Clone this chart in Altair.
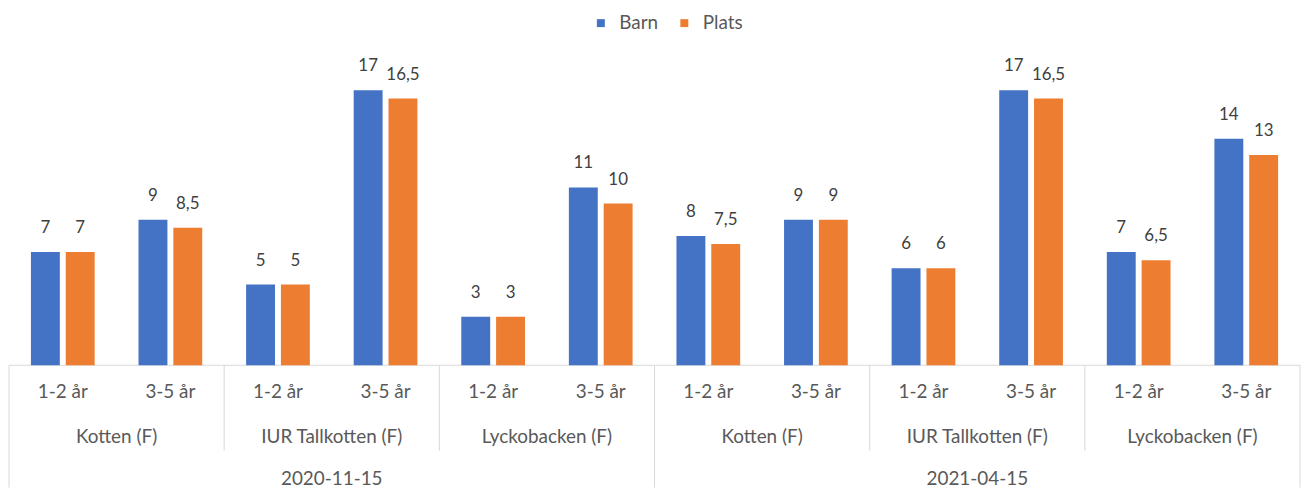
import altair as alt
import pandas as pd

dates = ["2020-11-15"] * 6 + ["2021-04-15"] * 6
units = ["Kotten (F)", "Kotten (F)", "IUR Tallkotten (F)", "IUR Tallkotten (F)", "Lyckobacken (F)", "Lyckobacken (F)"] * 2
ages = ["1-2 år", "3-5 år"] * 6
barn = [7, 9, 5, 17, 3, 11, 8, 9, 6, 17, 7, 14]
plats = [7, 8.5, 5, 16.5, 3, 10, 7.5, 9, 6, 16.5, 6.5, 13]
series = ["Barn", "Plats"]
colors = ["#4472C4", "#ED7D31"]

keys = [f"{d}|{u}|{a}" for d, u, a in zip(dates, units, ages)]

rows = []
for i, k in enumerate(keys):
    rows.append({"cat": k, "series": "Barn", "value": barn[i]})
    rows.append({"cat": k, "series": "Plats", "value": plats[i]})
df = pd.DataFrame(rows)

cats = pd.DataFrame({"cat": keys, "age": ages, "unit": units, "date": dates})
unit_df = cats.iloc[1::2].reset_index(drop=True)
date_df = cats.iloc[[3, 9]].reset_index(drop=True)
short_sep = pd.DataFrame({"cat": [keys[2], keys[4], keys[8], keys[10]]})
long_sep = pd.DataFrame({"cat": [keys[0], keys[6]]})

W = 1299
H = 358
FONT = "Lato"
GREY = "#D9D9D9"
TXT = "#595959"
AX_FS = 19

xscale = alt.Scale(domain=keys, paddingInner=0, paddingOuter=0)
xenc = alt.X("cat:N", scale=xscale, axis=None, sort=keys)
xoff = alt.XOffset("series:N", scale=alt.Scale(domain=series, paddingInner=0.17, paddingOuter=0.63))

bars = alt.Chart(df).mark_bar().encode(
    x=xenc,
    xOffset=xoff,
    y=alt.Y("value:Q", scale=alt.Scale(domain=[0, 21.9]), axis=None),
    color=alt.Color("series:N", scale=alt.Scale(domain=series, range=colors),
                    legend=alt.Legend(title=None, orient="none", direction="horizontal",
                                      legendX=586, legendY=4, symbolType="square",
                                      symbolSize=64, symbolStrokeWidth=0,
                                      labelFont=FONT, labelFontSize=AX_FS, labelColor=TXT,
                                      labelOffset=9, columnPadding=16)),
)

labels = alt.Chart(df).transform_calculate(
    lbl="replace(format(datum.value, ''), '.', ',')"
).mark_text(font=FONT, fontSize=17, color="#404040", baseline="middle", dy=-24).encode(
    x=xenc, xOffset=xoff, y=alt.Y("value:Q"), text="lbl:N"
)

baseline = alt.Chart(cats.iloc[:1]).mark_rule(color=GREY, strokeWidth=1).encode(
    x=alt.value(0), x2=alt.value(W), y=alt.value(H)
)

short_rules = alt.Chart(short_sep).mark_rule(color=GREY, strokeWidth=1).encode(
    x=alt.X("cat:N", scale=xscale, axis=None, sort=keys, bandPosition=0),
    y=alt.value(H), y2=alt.value(H + 86)
)
long_rules = alt.Chart(long_sep).mark_rule(color=GREY, strokeWidth=1).encode(
    x=alt.X("cat:N", scale=xscale, axis=None, sort=keys, bandPosition=0),
    y=alt.value(H), y2=alt.value(H + 123)
)
right_rule = alt.Chart(cats.iloc[:1]).mark_rule(color=GREY, strokeWidth=1).encode(
    x=alt.value(W), y=alt.value(H), y2=alt.value(H + 123)
)

age_text = alt.Chart(cats).mark_text(font=FONT, fontSize=AX_FS, color=TXT, baseline="middle").encode(
    x=xenc, y=alt.value(H + 27), text="age:N"
)
unit_text = alt.Chart(unit_df).mark_text(font=FONT, fontSize=AX_FS, color=TXT, baseline="middle").encode(
    x=alt.X("cat:N", scale=xscale, axis=None, sort=keys, bandPosition=0),
    y=alt.value(H + 72), text="unit:N"
)
date_text = alt.Chart(date_df).mark_text(font=FONT, fontSize=AX_FS, color=TXT, baseline="middle").encode(
    x=alt.X("cat:N", scale=xscale, axis=None, sort=keys, bandPosition=0),
    y=alt.value(H + 114), text="date:N"
)

chart = alt.layer(
    baseline, short_rules, long_rules, right_rule, bars, labels, age_text, unit_text, date_text
).properties(
    width=W, height=H,
    autosize=alt.AutoSizeParams(type="none"),
    padding={"left": 1, "right": 8, "top": 0, "bottom": 124},
).configure_view(stroke=None)

chart.save("out.html", embed_options={"renderer": "svg", "actions": False})
